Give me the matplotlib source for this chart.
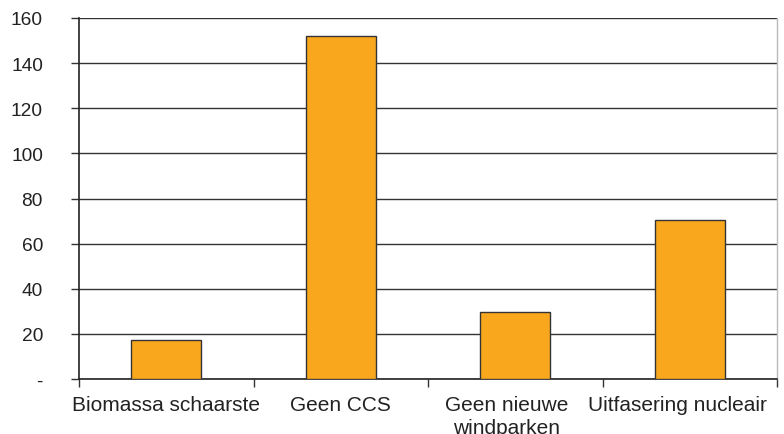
import matplotlib
matplotlib.use("Agg")
import matplotlib.pyplot as plt
from matplotlib.ticker import FixedLocator
from matplotlib.transforms import ScaledTranslation

categories = ["Biomassa schaarste", "Geen CCS", "Geen nieuwe\nwindparken", "Uitfasering nucleair"]
values = [17.4, 152.2, 29.5, 70.6]
yticks = [0, 20, 40, 60, 80, 100, 120, 140, 160]
ytick_labels = ["-", "20", "40", "60", "80", "100", "120", "140", "160"]

plt.rcParams["font.family"] = ["Liberation Sans", "DejaVu Sans"]

fig = plt.figure(figsize=(7.84, 4.35), dpi=100)
ax = fig.add_axes([79 / 784, 1 - 380 / 435, (777 - 79) / 784, (380 - 19) / 435])

x = list(range(len(categories)))
ax.bar(x, values, width=0.4, color="#F9A81E", edgecolor="#333333", linewidth=1.0, zorder=3)

ax.set_xlim(-0.5, len(categories) - 0.5)
ax.set_ylim(0, 160)

ax.set_yticks(yticks)
ax.set_yticklabels(ytick_labels, fontsize=13.8, color="#222222")
ax.yaxis.grid(True, color="#333333", linewidth=1.0, zorder=0)
ax.tick_params(axis="y", length=6, width=1, color="#333333", pad=20)

ax.set_xticks(x)
ax.set_xticklabels(categories, fontsize=15, color="#222222", linespacing=1.3)
ax.xaxis.set_minor_locator(FixedLocator([i - 0.5 for i in range(len(categories) + 1)]))
ax.tick_params(axis="x", which="major", length=0, pad=11.5)
ax.tick_params(axis="x", which="minor", length=6, width=1, color="#333333")

# the two right-hand labels sit slightly left of their slot centres
label_shift_px = [0, 0, -9, -12]
for lab, dx in zip(ax.get_xticklabels(), label_shift_px):
    if dx:
        lab.set_transform(lab.get_transform() + ScaledTranslation(dx / 100, 0, fig.dpi_scale_trans))

for side in ("left", "bottom"):
    ax.spines[side].set_color("#222222")
    ax.spines[side].set_linewidth(1.2)
ax.spines["top"].set_visible(False)
ax.spines["right"].set_color("#bbbbbb")
ax.spines["right"].set_linewidth(1.0)

fig.savefig("out.png", dpi=100)
